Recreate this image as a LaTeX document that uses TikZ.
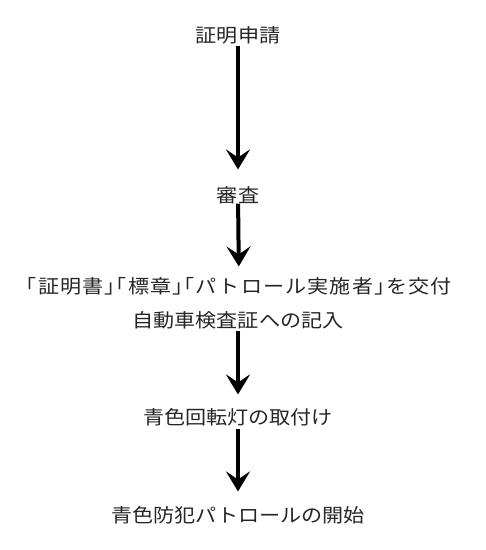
\documentclass[tikz,border=0pt]{standalone}
\usepackage{fontspec}
\usetikzlibrary{arrows.meta,positioning}
\newfontfamily\jpfont[FakeStretch=1.11,RawFeature=+halt]{Noto Sans CJK JP}
\newfontfamily\jpwide[FakeStretch=1.11,LetterSpace=6,RawFeature=+halt]{Noto Sans CJK JP}

\begin{document}
\begin{tikzpicture}[x=1pt,y=-1pt,
    stage/.style={inner sep=0pt,text height=15.4pt,text depth=1.3pt,text=black!85,font=\jpfont\fontsize{19pt}{23pt}\selectfont},
    flow/.style={-{Stealth[length=20pt,width=24pt,inset=8pt]},line width=4pt,shorten <=2pt,shorten >=14pt}
  ]
    \useasboundingbox (0,0) rectangle (486,550);

    % Steps from top to bottom
    \node[stage] (shinsei) at (238,35) {証明申請};
    \node[stage] (shinsa) at (238,195) {審査};
    \node[stage,font=\jpwide\fontsize{19pt}{23pt}\selectfont] (koufu) at (239,286) {「証明書」「標章」「パトロール実施者」を交付};
    \node[stage] (kinyu) at (238,320) {自動車検査証への記入};
    \node[stage] (toritsuke) at (238,417) {青色回転灯の取付け};
    \node[stage] (kaishi) at (238,515) {青色防犯パトロールの開始};

    % Arrows
    \draw[flow,shorten >=17pt] (shinsei) -- (shinsa);
    \draw[flow,shorten <=0pt,shorten >=11pt] (shinsa) -- (koufu);
    \draw[flow] (kinyu) -- (toritsuke);
    \draw[flow,shorten <=3pt,shorten >=15pt] (toritsuke) -- (kaishi);
  \end{tikzpicture}
\end{document}
